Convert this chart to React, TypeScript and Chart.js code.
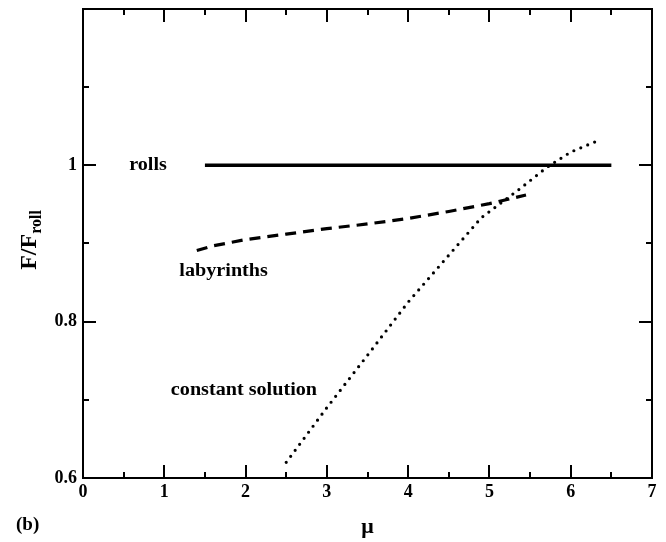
import React, { useEffect, useRef } from "react";
import { Chart, registerables } from "chart.js";

Chart.register(...registerables);

// Free energy relative to rolls versus mu
const rollsMu = [1.5, 6.5];
const rollsF = [1.0, 1.0];

const labyrinthMu = [1.4, 1.6, 1.8, 2.0, 2.5, 3.0, 3.5, 4.0, 4.5, 5.0, 5.45];
const labyrinthF = [0.891, 0.897, 0.901, 0.905, 0.912, 0.919, 0.925, 0.932, 0.941, 0.951, 0.962];

const constantMu = [2.5, 3.0, 3.5, 4.0, 4.4, 4.9, 5.4, 5.7, 6.0, 6.3];
const constantF = [0.62, 0.69, 0.757, 0.825, 0.873, 0.933, 0.972, 0.997, 1.017, 1.03];

// Axis ticks
const xMajorTicks = [0, 1, 2, 3, 4, 5, 6, 7];
const xMinorTicks = [0.5, 1.5, 2.5, 3.5, 4.5, 5.5, 6.5];
const yMajorTicks = [0.6, 0.8, 1.0, 1.2];
const yMinorTicks = [0.7, 0.9, 1.1];

// Curve labels (text, mu, F)
const curveLabels: [string, number, number][] = [
  ["rolls", 0.8, 1.0],
  ["labyrinths", 1.73, 0.864],
  ["constant solution", 1.98, 0.712],
];

const SERIF = '"Liberation Serif", "DejaVu Serif", serif';

const toPoints = (xs: number[], ys: number[]) => xs.map((x, i) => ({ x, y: ys[i] }));

const framePlugin = {
  id: "frameAndLabels",
  afterDraw(chart: any) {
    const { ctx, chartArea: a, scales } = chart;
    const xs = scales.x;
    const ys = scales.y;
    ctx.save();
    ctx.strokeStyle = "#000";
    ctx.lineWidth = 2;
    ctx.strokeRect(a.left, a.top, a.right - a.left, a.bottom - a.top);

    // inward ticks on all four sides
    const major = 13;
    const minor = 6;
    ctx.beginPath();
    const xt = (v: number, len: number) => {
      const p = Math.round(xs.getPixelForValue(v));
      ctx.moveTo(p, a.bottom);
      ctx.lineTo(p, a.bottom - len);
      ctx.moveTo(p, a.top);
      ctx.lineTo(p, a.top + len);
    };
    const yt = (v: number, len: number) => {
      const p = Math.round(ys.getPixelForValue(v));
      ctx.moveTo(a.left, p);
      ctx.lineTo(a.left + len, p);
      ctx.moveTo(a.right, p);
      ctx.lineTo(a.right - len, p);
    };
    xMajorTicks.forEach((v) => xt(v, major));
    xMinorTicks.forEach((v) => xt(v, minor));
    yMajorTicks.forEach((v) => yt(v, major));
    yMinorTicks.forEach((v) => yt(v, minor));
    ctx.stroke();

    // curve labels, slightly widened serif
    ctx.fillStyle = "#000";
    ctx.font = `bold 18px ${SERIF}`;
    ctx.textAlign = "center";
    ctx.textBaseline = "middle";
    curveLabels.forEach(([t, mu, f]) => {
      const px = xs.getPixelForValue(mu);
      const py = ys.getPixelForValue(f);
      ctx.save();
      ctx.translate(px, py);
      ctx.scale(1.12, 1);
      ctx.fillText(t, 0, 0);
      ctx.restore();
    });

    // x-axis title
    ctx.font = `bold 22px ${SERIF}`;
    ctx.fillText("μ", (a.left + a.right) / 2, 527);

    // panel tag
    ctx.font = `bold 19px ${SERIF}`;
    ctx.textAlign = "left";
    ctx.fillText("(b)", 16, 525);

    // y-axis title with subscript
    ctx.translate(28, 240);
    ctx.rotate(-Math.PI / 2);
    const mainFont = `bold 24px ${SERIF}`;
    const subFont = `bold 16px ${SERIF}`;
    ctx.font = mainFont;
    const w1 = ctx.measureText("F/F").width;
    ctx.font = subFont;
    const w2 = ctx.measureText("roll").width;
    const start = -(w1 + w2) / 2;
    ctx.textAlign = "left";
    ctx.textBaseline = "alphabetic";
    ctx.font = mainFont;
    ctx.fillText("F/F", start, 8);
    ctx.font = subFont;
    ctx.fillText("roll", start + w1, 13);
    ctx.restore();
  },
};

export default function App() {
  const ref = useRef<HTMLCanvasElement | null>(null);

  useEffect(() => {
    if (!ref.current) return;
    const tickFont = { family: SERIF, size: 18, weight: "bold" as const };
    const chart = new Chart(ref.current, {
      type: "line",
      data: {
        datasets: [
          {
            data: toPoints(rollsMu, rollsF),
            borderColor: "#000",
            borderWidth: 3.5,
            pointRadius: 0,
          },
          {
            data: toPoints(labyrinthMu, labyrinthF),
            borderColor: "#000",
            borderWidth: 3.2,
            borderDash: [11, 7],
            pointRadius: 0,
          },
          {
            data: toPoints(constantMu, constantF),
            borderColor: "#000",
            borderWidth: 3.2,
            borderDash: [0, 7.5],
            borderCapStyle: "round",
            pointRadius: 0,
          },
        ],
      },
      options: {
        animation: false,
        responsive: false,
        layout: { padding: { top: 9, right: 14, left: 0, bottom: 0 } },
        plugins: { legend: { display: false }, tooltip: { enabled: false } },
        scales: {
          x: {
            type: "linear",
            min: 0,
            max: 7,
            afterFit: (s: any) => {
              s.height = 64;
              s.paddingLeft = 0;
              s.paddingRight = 0;
            },
            grid: { display: false, drawTicks: false, tickLength: 0 },
            border: { display: false },
            ticks: { stepSize: 1, color: "#000", font: tickFont, padding: 4, maxRotation: 0 },
          },
          y: {
            type: "linear",
            min: 0.6,
            max: 1.2,
            afterFit: (s: any) => {
              s.width = 83;
              s.paddingTop = 0;
              s.paddingBottom = 0;
            },
            grid: { display: false, drawTicks: false, tickLength: 0 },
            border: { display: false },
            ticks: {
              stepSize: 0.2,
              color: "#000",
              font: tickFont,
              padding: 6,
              callback: (v: any) => {
                const n = Math.round(Number(v) * 10) / 10;
                return Math.abs(n - 1.2) < 1e-6 ? "" : String(n);
              },
            },
          },
        },
      },
      plugins: [framePlugin],
    } as any);
    return () => chart.destroy();
  }, []);

  return (
    <div style={{ position: "fixed", left: 0, top: 0, width: 666, height: 542, background: "#fff" }}>
      <canvas ref={ref} width={666} height={542} />
    </div>
  );
}
